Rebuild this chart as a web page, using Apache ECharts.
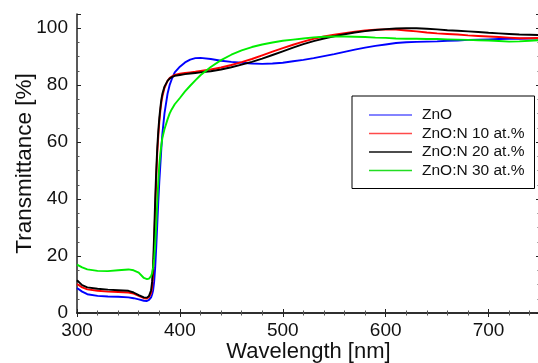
<!DOCTYPE html>
<html><head><meta charset="utf-8">
<script src="https://cdn.jsdelivr.net/npm/echarts@6/dist/echarts.min.js"></script>
<style>html,body{margin:0;padding:0;background:#fff}#c{width:538px;height:363px}</style>
</head><body><div id="c"></div>
<script>
const wavelength = [300,305,310,320,330,340,350,355,360,365,368,370,372,373,374,375,376,377,378,379,380,381,382,383,385,388,390,392,395,400,405,410,415,420,430,440,450,460,470,480,490,500,510,520,530,540,550,560,570,580,590,600,610,620,630,640,650,660,670,680,690,700,710,720,730,740,750];
const znO = [8.8,7.5,6.6,6.0,5.8,5.7,5.5,5.2,4.8,4.3,4.2,4.6,5.5,6.5,8,11,16,23,31,39,46,52,58,63,70,77,80,82,84.5,86.5,88,89,89.5,89.6,89.2,88.6,88.2,87.9,87.6,87.5,87.6,87.9,88.4,88.9,89.5,90.2,90.9,91.7,92.5,93.2,93.8,94.3,94.8,95.1,95.2,95.3,95.4,95.6,95.7,95.9,96,96.1,96.2,96.3,96.3,96.4,96.4];
const znON10 = [10.2,9,8.3,7.8,7.5,7.4,7.2,6.8,6,5.2,5.1,5.6,7,9,14,24,36,47,56,62,67,71,74,76,79,81.5,82.5,83,83.6,84,84.3,84.5,84.7,85,85.5,86.2,87.1,88.1,89.2,90.5,91.8,93,94.2,95.3,96.3,97.1,97.7,98.3,98.8,99.2,99.5,99.6,99.5,99.2,98.9,98.5,98.2,98,97.8,97.5,97.3,97.1,96.9,96.7,96.5,96.5,96.6];
const znON20 = [11.5,9.8,9,8.5,8.2,8.0,7.8,7.2,6.3,5.5,5.4,6,8,11,17,28,40,50,58,64,68.5,72,75,77,79.5,81.5,82.3,82.8,83.3,83.6,83.9,84.1,84.3,84.5,84.9,85.5,86.3,87.2,88.2,89.3,90.6,91.9,93.2,94.4,95.5,96.4,97.2,97.9,98.5,99,99.4,99.7,99.9,100,100,99.8,99.6,99.3,99.1,98.9,98.7,98.4,98.2,98,97.8,97.7,97.6];
const znON30 = [17,16,15.3,14.8,14.7,15,15.3,15,14.2,12.3,11.9,12.1,13,14,16,19,24,31,39,46,52,56,59,61.5,64.5,68,70,71.5,73.3,75.5,77.8,79.8,81.7,83.5,86.4,88.8,90.7,92.2,93.4,94.3,95,95.6,96,96.4,96.8,97,97.1,97.1,97,96.9,96.7,96.6,96.4,96.3,96.3,96.2,96.2,96.1,96,95.9,95.8,95.7,95.5,95.3,95.4,95.6,95.8];
const seriesNames = ['ZnO','ZnO:N 10 at.%','ZnO:N 20 at.%','ZnO:N 30 at.%'];
const seriesValues = [znO, znON10, znON20, znON30];
const seriesColors = ['#0000ff','#ff0000','#000000','#00ee00'];
const legendColors = ['#5a5aff','#ff4a4a','#111111','#22dd22'];

const FONT = "'Liberation Sans', Arial, sans-serif";
const chart = echarts.init(document.getElementById('c'), null, {renderer:'canvas'});
const axisLine = {show:true, lineStyle:{color:'#222', width:1.5}};
const tick = {show:true, inside:true, length:4, lineStyle:{color:'#222', width:1}};
const minorTick = (n)=>({show:true, splitNumber:n, length:2.5, lineStyle:{color:'#555', width:1}});
chart.setOption({
  animation:false,
  backgroundColor:'#fff',
  grid:{left:77, top:14, right:-2, bottom:50, containLabel:false, outerBoundsMode:'none'},
  legend:{
    orient:'vertical', left:352, top:96,
    padding:[11,10,10,17], itemGap:2.5, itemWidth:43, itemHeight:1.5,
    icon:'rect',
    borderColor:'#000', borderWidth:1, backgroundColor:'#fff',
    textStyle:{fontFamily:FONT, fontSize:15.5, color:'#111', padding:[0,0,0,5]},
    data: seriesNames.map((n,i)=>({name:n, icon:'rect', itemStyle:{color:legendColors[i], borderWidth:0}}))
  },
  xAxis:[{
    type:'value', min:300, max:750, interval:100,
    name:'Wavelength [nm]', nameLocation:'middle', nameGap:28, nameMoveOverlap:false,
    nameTextStyle:{fontFamily:FONT, fontSize:22, color:'#111'},
    axisLine:axisLine, axisTick:tick, minorTick:minorTick(5),
    axisLabel:{fontFamily:FONT, fontSize:19, color:'#111', margin:8,
      formatter:(v)=> v>=750 ? '' : String(v)},
    splitLine:{show:false}
  },{
    type:'value', min:300, max:750, interval:100, position:'top',
    axisLine:axisLine, axisTick:tick, minorTick:minorTick(5),
    axisLabel:{show:false}, splitLine:{show:false}
  }],
  yAxis:[{
    type:'value', min:0, max:105, interval:20,
    name:'Transmittance [%]', nameLocation:'middle', nameGap:41, nameMoveOverlap:false,
    nameTextStyle:{fontFamily:FONT, fontSize:22.5, color:'#111'},
    axisLine:axisLine, axisTick:tick, minorTick:minorTick(4),
    axisLabel:{fontFamily:FONT, fontSize:19, color:'#111', margin:9,
      formatter:(v)=> v>100 ? '' : String(v)},
    splitLine:{show:false}
  },{
    type:'value', min:0, max:105, interval:20, position:'right',
    axisLine:axisLine, axisTick:tick, minorTick:minorTick(4),
    axisLabel:{show:false}, splitLine:{show:false}
  }],
  series: seriesNames.map((name,i)=>({
    name:name, type:'line', showSymbol:false, symbol:'none',
    data: wavelength.map((w,j)=>[w, seriesValues[i][j]]),
    lineStyle:{color:seriesColors[i], width:1.9},
    itemStyle:{color:seriesColors[i]},
    z: 2+i
  }))
});
</script></body></html>
